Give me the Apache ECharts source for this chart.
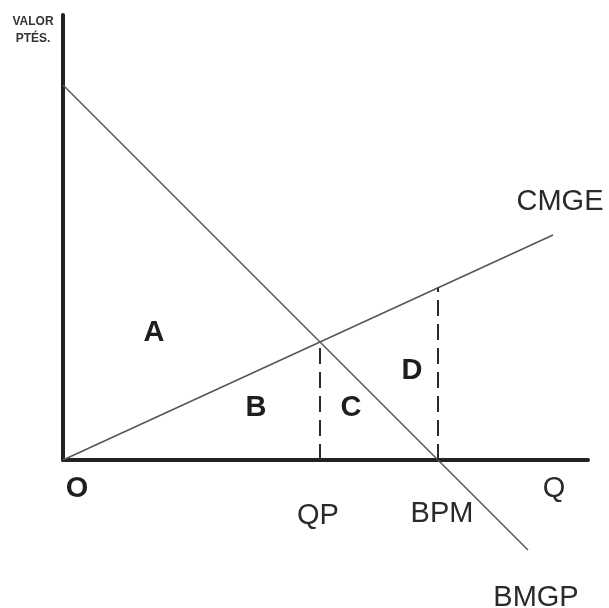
<!DOCTYPE html>
<html>
<head>
<meta charset="utf-8">
<script src="https://cdn.jsdelivr.net/npm/echarts@6/dist/echarts.min.js"></script>
<style>
html,body{margin:0;padding:0;background:#fff;}
#main{width:609px;height:608px;}
</style>
</head>
<body>
<div id="main"></div>
<script>
// curvas (unidades del eje)
var cmge = [[0, 0], [98, 45]];
var bmgp = [[0, 75], [93, -18]];
var qpLine = [[51.4, 0], [51.4, 23.6]];
var bpmLine = [[75, 0], [75, 34.5]];

// rótulos: [x, y, texto]
var areaLabels = [[18.2, 25.4, 'A'], [38.6, 10.4, 'B'], [57.6, 10.4, 'C'], [69.8, 17.8, 'D'], [2.8, -5.8, 'O']];
var plainLabels = [[51, -11.2, 'QP'], [75.8, -10.8, 'BPM'], [98.2, -5.8, 'Q'], [94.6, -27.6, 'BMGP'], [99.4, 51.6, 'CMGE']];
var yTitle = ['VALOR', 'PTÉS.'];

(function(){
    function toPts(arr){
        return arr.map(function(d){ return {value: [d[0], d[1]], name: d[2]}; });
    }
    var dash = {color: '#2a2a2a', width: 2, type: [16, 8]};
    var opt = {
        animation: false,
        grid: {left: 63, right: 21, top: 15, bottom: 148},
        xAxis: {
            type: 'value', min: 0, max: 105,
            axisLine: {show: true, onZero: false, lineStyle: {color: '#222', width: 4}},
            axisTick: {show: false}, axisLabel: {show: false}, splitLine: {show: false}
        },
        yAxis: {
            type: 'value', min: 0, max: 89,
            axisLine: {show: true, onZero: false, lineStyle: {color: '#222', width: 4}},
            axisTick: {show: false}, axisLabel: {show: false}, splitLine: {show: false}
        },
        graphic: yTitle.map(function(t, i){
            return {
                type: 'text', x: 33, y: 22 + i * 17,
                style: {text: t, fill: '#333', font: 'bold 12px "Liberation Sans", Arial',
                    align: 'center', verticalAlign: 'middle'}
            };
        }),
        series: [
            {
                name: 'CMGE', type: 'line', data: cmge, symbol: 'none', clip: false,
                lineStyle: {color: '#555', width: 1.5}
            },
            {
                name: 'BMGP', type: 'line', data: bmgp, symbol: 'none', clip: false,
                lineStyle: {color: '#555', width: 1.5}
            },
            {type: 'line', data: qpLine, symbol: 'none', lineStyle: dash},
            {type: 'line', data: bpmLine, symbol: 'none', lineStyle: dash},
            {
                type: 'scatter', data: toPts(areaLabels), symbolSize: 0, clip: false,
                itemStyle: {opacity: 1},
                label: {show: true, position: 'inside', formatter: '{b}', color: '#1e1e1e',
                    fontFamily: '"Liberation Sans", Arial', fontWeight: 'bold', fontSize: 29}
            },
            {
                type: 'scatter', data: toPts(plainLabels), symbolSize: 0, clip: false,
                itemStyle: {opacity: 1},
                label: {show: true, position: 'inside', formatter: '{b}', color: '#2a2a2a',
                    fontFamily: '"Liberation Sans", Arial', fontSize: 29}
            }
        ]
    };
    var chart = echarts.init(document.getElementById('main'));
    chart.setOption(opt);
})();
</script>
</body>
</html>
